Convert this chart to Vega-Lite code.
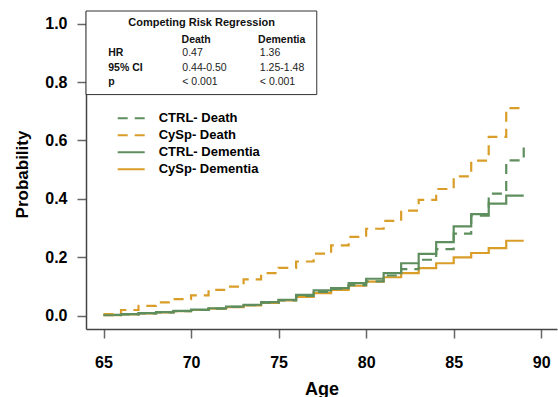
{
  "$schema": "https://vega.github.io/schema/vega-lite/v6.json",
  "width": 471,
  "height": 318,
  "autosize": "none",
  "padding": {"left": 86, "top": 11, "right": 1, "bottom": 68},
  "config": {
    "view": {"stroke": null},
    "font": "Liberation Sans",
    "axis": {
      "grid": false,
      "labelFont": "Liberation Sans",
      "labelFontWeight": "bold",
      "labelFontSize": 16,
      "labelColor": "#000",
      "tickSize": 9,
      "tickColor": "#666",
      "tickWidth": 1.5,
      "domainColor": "#444",
      "domainWidth": 1.5,
      "titleFont": "Liberation Sans",
      "titleFontWeight": "bold",
      "titleColor": "#000"
    },
    "legend": {
      "symbolType": "stroke",
      "symbolSize": 729,
      "symbolStrokeWidth": 2,
      "clipHeight": 15,
      "rowPadding": 2,
      "padding": 0,
      "labelFont": "Liberation Sans",
      "labelFontSize": 13,
      "labelFontWeight": "bold",
      "labelColor": "#000",
      "labelOffset": 13,
      "labelBaseline": "middle"
    }
  },
  "datasets": {
    "curves": [
      {"series": "CySp- Dementia", "age": 65, "p": 0.002}, {"series": "CySp- Dementia", "age": 66, "p": 0.005}, {"series": "CySp- Dementia", "age": 67, "p": 0.008}, {"series": "CySp- Dementia", "age": 68, "p": 0.012}, {"series": "CySp- Dementia", "age": 69, "p": 0.016}, {"series": "CySp- Dementia", "age": 70, "p": 0.02}, {"series": "CySp- Dementia", "age": 71, "p": 0.025}, {"series": "CySp- Dementia", "age": 72, "p": 0.03}, {"series": "CySp- Dementia", "age": 73, "p": 0.036}, {"series": "CySp- Dementia", "age": 74, "p": 0.044}, {"series": "CySp- Dementia", "age": 75, "p": 0.053}, {"series": "CySp- Dementia", "age": 76, "p": 0.065}, {"series": "CySp- Dementia", "age": 77, "p": 0.078}, {"series": "CySp- Dementia", "age": 78, "p": 0.089}, {"series": "CySp- Dementia", "age": 79, "p": 0.103}, {"series": "CySp- Dementia", "age": 80, "p": 0.117}, {"series": "CySp- Dementia", "age": 81, "p": 0.132}, {"series": "CySp- Dementia", "age": 82, "p": 0.146}, {"series": "CySp- Dementia", "age": 83, "p": 0.163}, {"series": "CySp- Dementia", "age": 84, "p": 0.18}, {"series": "CySp- Dementia", "age": 85, "p": 0.2}, {"series": "CySp- Dementia", "age": 86, "p": 0.215}, {"series": "CySp- Dementia", "age": 87, "p": 0.232}, {"series": "CySp- Dementia", "age": 88, "p": 0.257}, {"series": "CySp- Dementia", "age": 89, "p": 0.257},
      {"series": "CTRL- Dementia", "age": 65, "p": 0.003}, {"series": "CTRL- Dementia", "age": 66, "p": 0.006}, {"series": "CTRL- Dementia", "age": 67, "p": 0.009}, {"series": "CTRL- Dementia", "age": 68, "p": 0.013}, {"series": "CTRL- Dementia", "age": 69, "p": 0.017}, {"series": "CTRL- Dementia", "age": 70, "p": 0.021}, {"series": "CTRL- Dementia", "age": 71, "p": 0.026}, {"series": "CTRL- Dementia", "age": 72, "p": 0.032}, {"series": "CTRL- Dementia", "age": 73, "p": 0.038}, {"series": "CTRL- Dementia", "age": 74, "p": 0.047}, {"series": "CTRL- Dementia", "age": 75, "p": 0.055}, {"series": "CTRL- Dementia", "age": 76, "p": 0.072}, {"series": "CTRL- Dementia", "age": 77, "p": 0.087}, {"series": "CTRL- Dementia", "age": 78, "p": 0.095}, {"series": "CTRL- Dementia", "age": 79, "p": 0.112}, {"series": "CTRL- Dementia", "age": 80, "p": 0.127}, {"series": "CTRL- Dementia", "age": 81, "p": 0.146}, {"series": "CTRL- Dementia", "age": 82, "p": 0.18}, {"series": "CTRL- Dementia", "age": 83, "p": 0.212}, {"series": "CTRL- Dementia", "age": 84, "p": 0.252}, {"series": "CTRL- Dementia", "age": 85, "p": 0.306}, {"series": "CTRL- Dementia", "age": 86, "p": 0.348}, {"series": "CTRL- Dementia", "age": 87, "p": 0.384}, {"series": "CTRL- Dementia", "age": 88, "p": 0.411}, {"series": "CTRL- Dementia", "age": 89, "p": 0.411},
      {"series": "CySp- Death", "age": 65, "p": 0.006}, {"series": "CySp- Death", "age": 66, "p": 0.02}, {"series": "CySp- Death", "age": 67, "p": 0.034}, {"series": "CySp- Death", "age": 68, "p": 0.046}, {"series": "CySp- Death", "age": 69, "p": 0.057}, {"series": "CySp- Death", "age": 70, "p": 0.07}, {"series": "CySp- Death", "age": 71, "p": 0.089}, {"series": "CySp- Death", "age": 72, "p": 0.1}, {"series": "CySp- Death", "age": 73, "p": 0.125}, {"series": "CySp- Death", "age": 74, "p": 0.146}, {"series": "CySp- Death", "age": 75, "p": 0.164}, {"series": "CySp- Death", "age": 76, "p": 0.186}, {"series": "CySp- Death", "age": 77, "p": 0.213}, {"series": "CySp- Death", "age": 78, "p": 0.241}, {"series": "CySp- Death", "age": 79, "p": 0.27}, {"series": "CySp- Death", "age": 80, "p": 0.298}, {"series": "CySp- Death", "age": 81, "p": 0.325}, {"series": "CySp- Death", "age": 82, "p": 0.36}, {"series": "CySp- Death", "age": 83, "p": 0.397}, {"series": "CySp- Death", "age": 84, "p": 0.434}, {"series": "CySp- Death", "age": 85, "p": 0.477}, {"series": "CySp- Death", "age": 86, "p": 0.531}, {"series": "CySp- Death", "age": 87, "p": 0.612}, {"series": "CySp- Death", "age": 88, "p": 0.711}, {"series": "CySp- Death", "age": 89, "p": 0.711},
      {"series": "CTRL- Death", "age": 65, "p": 0.002}, {"series": "CTRL- Death", "age": 66, "p": 0.005}, {"series": "CTRL- Death", "age": 67, "p": 0.008}, {"series": "CTRL- Death", "age": 68, "p": 0.012}, {"series": "CTRL- Death", "age": 69, "p": 0.016}, {"series": "CTRL- Death", "age": 70, "p": 0.02}, {"series": "CTRL- Death", "age": 71, "p": 0.025}, {"series": "CTRL- Death", "age": 72, "p": 0.031}, {"series": "CTRL- Death", "age": 73, "p": 0.037}, {"series": "CTRL- Death", "age": 74, "p": 0.045}, {"series": "CTRL- Death", "age": 75, "p": 0.053}, {"series": "CTRL- Death", "age": 76, "p": 0.068}, {"series": "CTRL- Death", "age": 77, "p": 0.082}, {"series": "CTRL- Death", "age": 78, "p": 0.092}, {"series": "CTRL- Death", "age": 79, "p": 0.105}, {"series": "CTRL- Death", "age": 80, "p": 0.118}, {"series": "CTRL- Death", "age": 81, "p": 0.138}, {"series": "CTRL- Death", "age": 82, "p": 0.16}, {"series": "CTRL- Death", "age": 83, "p": 0.192}, {"series": "CTRL- Death", "age": 84, "p": 0.228}, {"series": "CTRL- Death", "age": 85, "p": 0.281}, {"series": "CTRL- Death", "age": 86, "p": 0.343}, {"series": "CTRL- Death", "age": 87, "p": 0.418}, {"series": "CTRL- Death", "age": 88, "p": 0.532}, {"series": "CTRL- Death", "age": 89, "p": 0.59}
    ],
    "box": [{"x1": 64.0, "x2": 77.18, "y1": 1.043, "y2": 0.757}],
    "tableTitle": [{"text": "Competing Risk Regression", "x": 70.6, "y": 1.003}],
    "tableBold": [
      {"text": "Death", "x": 69.46, "y": 0.935},
      {"text": "Dementia", "x": 73.83, "y": 0.935},
      {"text": "HR", "x": 65.27, "y": 0.888},
      {"text": "95% CI", "x": 65.27, "y": 0.837},
      {"text": "p", "x": 65.27, "y": 0.789}
    ],
    "tableValues": [
      {"text": "0.47", "x": 69.5, "y": 0.888},
      {"text": "1.36", "x": 73.93, "y": 0.888},
      {"text": "0.44-0.50", "x": 69.5, "y": 0.837},
      {"text": "1.25-1.48", "x": 73.93, "y": 0.837},
      {"text": "< 0.001", "x": 69.5, "y": 0.789},
      {"text": "< 0.001", "x": 73.93, "y": 0.789}
    ]
  },
  "layer": [
    {
      "data": {"name": "curves"},
      "mark": {"type": "line", "interpolate": "step-after", "strokeWidth": 2.2},
      "encoding": {
        "x": {"field": "age", "type": "quantitative",
          "scale": {"domain": [64, 90.9], "nice": false, "zero": false},
          "axis": {"values": [65, 70, 75, 80, 85, 90], "title": "Age", "titleFontSize": 18, "titleBaseline": "alphabetic", "titleY": 65, "labelPadding": 16, "labelFlush": false}},
        "y": {"field": "p", "type": "quantitative",
          "scale": {"domain": [-0.045, 1.043], "nice": false, "zero": false},
          "axis": {"values": [0, 0.2, 0.4, 0.6, 0.8, 1.0], "format": ".1f", "title": "Probability", "titleFontSize": 17, "titleAngle": 270, "titleX": -64, "titleY": 163, "titleAlign": "center", "titleBaseline": "middle", "labelPadding": 10, "labelFlush": false}},
        "color": {"field": "series", "type": "nominal",
          "scale": {"domain": ["CTRL- Death", "CySp- Death", "CTRL- Dementia", "CySp- Dementia"], "range": ["#5e8e5e", "#d99d28", "#5e8e5e", "#d99d28"]},
          "legend": {"orient": "none", "legendX": 30.7, "legendY": 99.8, "title": null}},
        "strokeDash": {"field": "series", "type": "nominal",
          "scale": {"domain": ["CTRL- Death", "CySp- Death", "CTRL- Dementia", "CySp- Dementia"], "range": [[10, 7], [10, 7], [1, 0], [1, 0]]},
          "legend": {"orient": "none", "legendX": 30.7, "legendY": 99.8, "title": null}},
        "order": {"field": "age", "type": "quantitative"}
      }
    },
    {
      "data": {"name": "box"},
      "mark": {"type": "rect", "fill": "#ffffff", "stroke": "#333333", "strokeWidth": 1},
      "encoding": {
        "x": {"field": "x1", "type": "quantitative"},
        "x2": {"field": "x2"},
        "y": {"field": "y1", "type": "quantitative"},
        "y2": {"field": "y2"}
      }
    },
    {
      "data": {"name": "tableTitle"},
      "mark": {"type": "text", "font": "Liberation Sans", "fontWeight": "bold", "fontSize": 11, "align": "center", "baseline": "middle", "color": "#111"},
      "encoding": {
        "x": {"field": "x", "type": "quantitative"},
        "y": {"field": "y", "type": "quantitative"},
        "text": {"field": "text"}
      }
    },
    {
      "data": {"name": "tableBold"},
      "mark": {"type": "text", "font": "Liberation Sans", "fontWeight": "bold", "fontSize": 10.5, "align": "left", "baseline": "alphabetic", "color": "#111"},
      "encoding": {
        "x": {"field": "x", "type": "quantitative"},
        "y": {"field": "y", "type": "quantitative"},
        "text": {"field": "text"}
      }
    },
    {
      "data": {"name": "tableValues"},
      "mark": {"type": "text", "font": "Liberation Sans", "fontSize": 10.5, "align": "left", "baseline": "alphabetic", "color": "#222"},
      "encoding": {
        "x": {"field": "x", "type": "quantitative"},
        "y": {"field": "y", "type": "quantitative"},
        "text": {"field": "text"}
      }
    }
  ]
}
